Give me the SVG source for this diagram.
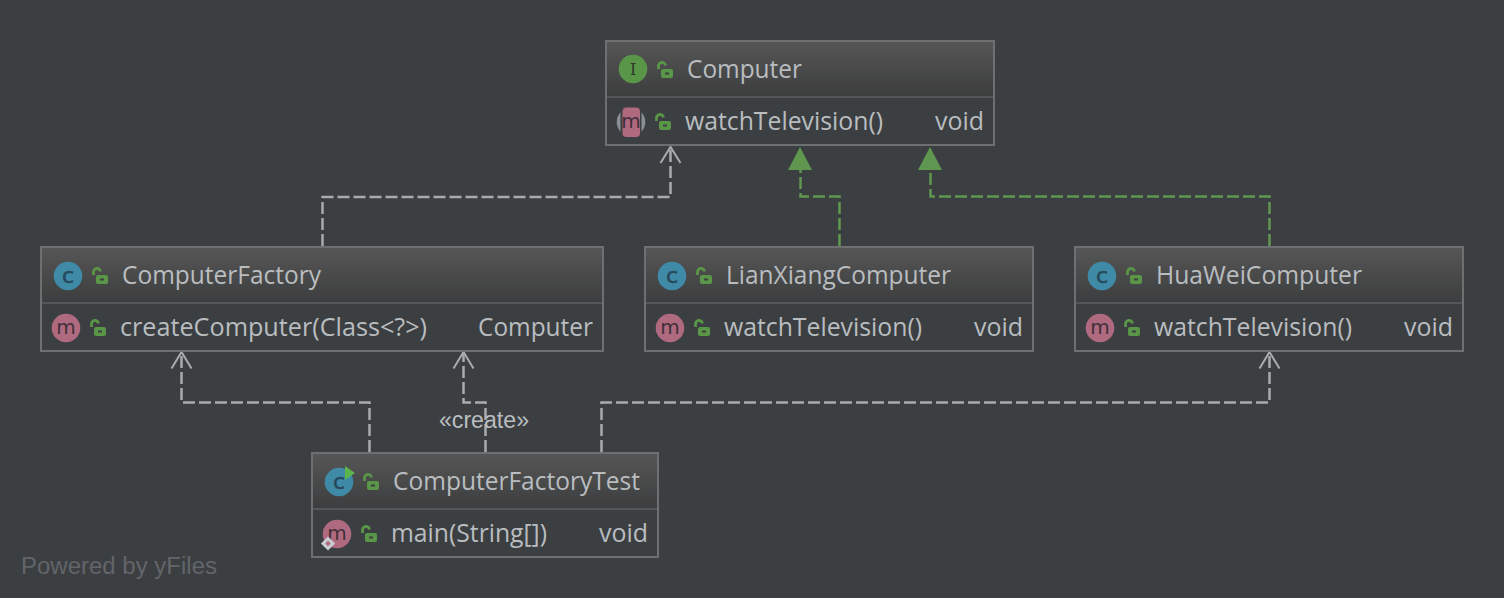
<svg xmlns="http://www.w3.org/2000/svg" width="1504" height="598" viewBox="0 0 1504 598">
<style>
text{font-family:"Open Sans","Noto Sans","Liberation Sans",sans-serif;font-size:25px;fill:#b9bdc0}
.box{fill:#3c3f41;stroke:#6e6f70;stroke-width:2}
.div{stroke:#555658;stroke-width:2}
.dep{fill:none;stroke:#a9abad;stroke-width:2.500;stroke-dasharray:12 4}
.impl{fill:none;stroke:#5f9650;stroke-width:2.500;stroke-dasharray:12 4}
.open{fill:none;stroke:#a9abad;stroke-width:2}
.tri{fill:#5f9650}
.letter{font-family:"DejaVu Sans",sans-serif;font-size:17px;text-anchor:middle;fill:#2f3a42}
.wm{font-family:"Liberation Sans",Arial,sans-serif;font-size:23px;fill:#62656a}
.lbl{font-family:"Liberation Sans",Arial,sans-serif;font-size:23px;fill:#b9bdc0}
</style>
<defs>
<linearGradient id="hd" x1="0" y1="0" x2="0" y2="1"><stop offset="0" stop-color="#565656"/><stop offset="1" stop-color="#3c3d3e"/></linearGradient>
<g id="lock"><path d="M-5.500,-1 V-3.500 a3.500,3.500 0 0 1 7,-1" fill="none" stroke="#5a9647" stroke-width="2.800"/><rect x="-3" y="-1" width="12" height="9" rx="2" fill="#5a9647"/><rect x="1" y="2.500" width="4" height="2" fill="#3c3f41"/></g>
<g id="mIcon"><circle r="14.300" fill="#b06a7f"/><text class="letter" y="6" style="font-size:20px;fill:#40303a">m</text></g>
<g id="cIcon"><circle r="14.300" fill="#3f8aa6"/><text class="letter" y="6.500" style="font-size:22px;fill:#274a5c;stroke:#274a5c;stroke-width:.6">c</text></g>
</defs>
<rect width="1504" height="598" fill="#3c3f41"/>
<g id="connectors">
<path class="dep" d="M322.500,246V197H670.500V148"/>
<path class="open" d="M660.500,163L670.500,147L680.500,163"/>
<path class="impl" d="M839.500,246V196.500H800.500V165"/>
<polygon class="tri" points="800,147 788,170 812,170"/>
<path class="impl" d="M1269.500,246V196.500H930.500V165"/>
<polygon class="tri" points="930,147 918,170 942,170"/>
<path class="dep" d="M369.500,452V402.500H181.500V354"/>
<path class="open" d="M171.500,368.500L181.500,352L191.500,368.500"/>
<path class="dep" d="M485.500,452V402.500H463.500V354"/>
<path class="open" d="M453.500,368.500L463.500,352L473.500,368.500"/>
<path class="dep" d="M601.500,452V402.500H1269.500V354"/>
<path class="open" d="M1259.500,368.500L1269.500,352L1279.500,368.500"/>
<text class="lbl" x="439" y="428" textLength="90" lengthAdjust="spacingAndGlyphs">«create»</text>
</g>
<g id="node-computer">
<rect class="box" x="606" y="41" width="388" height="104"/>
<rect x="607" y="42" width="386" height="55" fill="url(#hd)"/>
<line class="div" x1="607" y1="97" x2="993" y2="97"/>
<circle cx="633" cy="69" r="14.300" fill="#5a9647"/><text class="letter" x="633" y="75" style="font-family:'DejaVu Serif',serif;fill:#2f3a2c">I</text>
<use href="#lock" x="664" y="70"/>
<text x="687" y="78" textLength="115" lengthAdjust="spacingAndGlyphs">Computer</text>
<circle cx="631" cy="122" r="14.300" fill="#8a9196"/><rect x="620.500" y="107" width="21" height="30" fill="#3c3f41"/><rect x="622.500" y="107.500" width="17.500" height="29.500" rx="4" fill="#b06a7f"/><text class="letter" x="631" y="128" style="font-size:20px;fill:#40303a">m</text>
<use href="#lock" x="662" y="122"/>
<text x="685" y="130" textLength="198" lengthAdjust="spacingAndGlyphs">watchTelevision()</text>
<text x="935" y="130" textLength="49" lengthAdjust="spacingAndGlyphs">void</text>
</g>
<g id="node-computerfactory">
<rect class="box" x="41" y="247" width="562" height="104"/>
<rect x="42" y="248" width="560" height="55" fill="url(#hd)"/>
<line class="div" x1="42" y1="303" x2="602" y2="303"/>
<use href="#cIcon" x="68" y="276"/>
<use href="#lock" x="99" y="276"/>
<text x="122" y="284" textLength="199" lengthAdjust="spacingAndGlyphs">ComputerFactory</text>
<use href="#mIcon" x="66" y="328"/>
<use href="#lock" x="97" y="328"/>
<text x="120" y="336" textLength="307" lengthAdjust="spacingAndGlyphs">createComputer(Class&lt;?&gt;)</text>
<text x="478" y="336" textLength="115" lengthAdjust="spacingAndGlyphs">Computer</text>
</g>
<g id="node-lianxiang">
<rect class="box" x="645" y="247" width="388" height="104"/>
<rect x="646" y="248" width="386" height="55" fill="url(#hd)"/>
<line class="div" x1="646" y1="303" x2="1032" y2="303"/>
<use href="#cIcon" x="672" y="276"/>
<use href="#lock" x="703" y="276"/>
<text x="726" y="284" textLength="225" lengthAdjust="spacingAndGlyphs">LianXiangComputer</text>
<use href="#mIcon" x="670" y="328"/>
<use href="#lock" x="701" y="328"/>
<text x="724" y="336" textLength="198" lengthAdjust="spacingAndGlyphs">watchTelevision()</text>
<text x="974" y="336" textLength="49" lengthAdjust="spacingAndGlyphs">void</text>
</g>
<g id="node-huawei">
<rect class="box" x="1075" y="247" width="388" height="104"/>
<rect x="1076" y="248" width="386" height="55" fill="url(#hd)"/>
<line class="div" x1="1076" y1="303" x2="1462" y2="303"/>
<use href="#cIcon" x="1102" y="276"/>
<use href="#lock" x="1133" y="276"/>
<text x="1156" y="284" textLength="206" lengthAdjust="spacingAndGlyphs">HuaWeiComputer</text>
<use href="#mIcon" x="1100" y="328"/>
<use href="#lock" x="1131" y="328"/>
<text x="1154" y="336" textLength="198" lengthAdjust="spacingAndGlyphs">watchTelevision()</text>
<text x="1404" y="336" textLength="49" lengthAdjust="spacingAndGlyphs">void</text>
</g>
<g id="node-computerfactorytest">
<rect class="box" x="312" y="453" width="346" height="104"/>
<rect x="313" y="454" width="344" height="55" fill="url(#hd)"/>
<line class="div" x1="313" y1="509" x2="657" y2="509"/>
<use href="#cIcon" x="339" y="482"/>
<polygon points="345,466 355,473 345,480" fill="#5cb54a"/>
<use href="#lock" x="370" y="482"/>
<text x="393" y="490" textLength="247" lengthAdjust="spacingAndGlyphs">ComputerFactoryTest</text>
<use href="#mIcon" x="337" y="534"/>
<rect x="323" y="538.500" width="10" height="10" transform="rotate(45 328 543.500)" fill="#c9ced2"/><rect x="326" y="541.500" width="4" height="4" transform="rotate(45 328 543.500)" fill="#b06a7f"/>
<use href="#lock" x="368" y="534"/>
<text x="391" y="542" textLength="156" lengthAdjust="spacingAndGlyphs">main(String[])</text>
<text x="599" y="542" textLength="49" lengthAdjust="spacingAndGlyphs">void</text>
</g>
<text class="wm" x="21" y="574" textLength="196" lengthAdjust="spacingAndGlyphs">Powered by yFiles</text>
</svg>
